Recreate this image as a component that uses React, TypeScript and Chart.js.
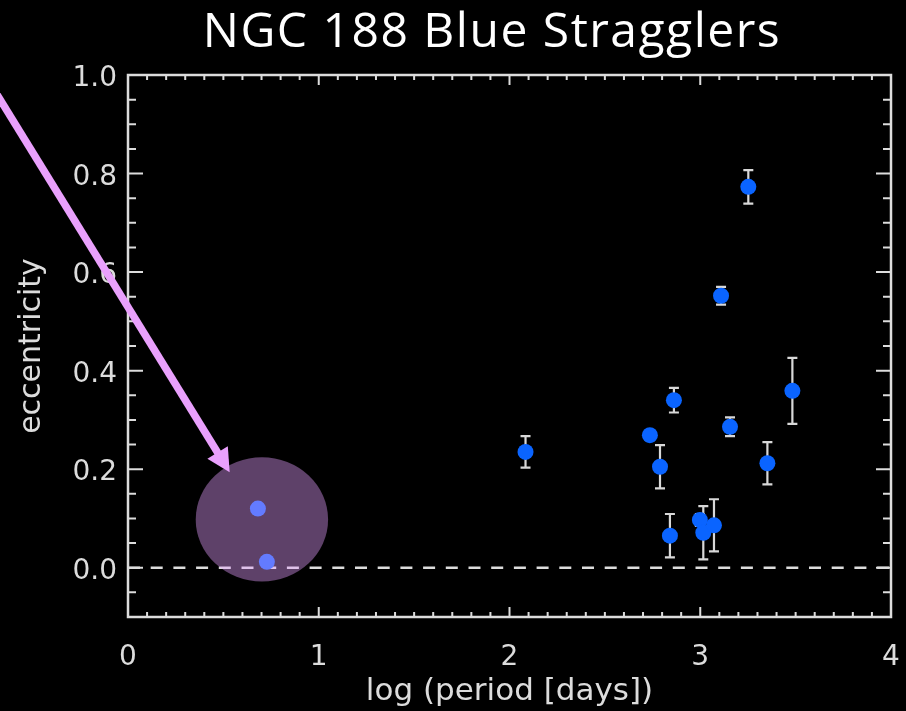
import React, { useEffect, useRef } from "react";
import { Chart, registerables } from "chart.js";

Chart.register(...registerables);

const chartTitle = "NGC 188 Blue Stragglers";
const xAxisTitle = "log (period [days])";
const yAxisTitle = "eccentricity";

// Blue straggler binaries with orbit solutions
const logPeriod = [2.084, 2.736, 2.789, 2.862, 2.841, 2.998, 3.016, 3.072, 3.109, 3.156, 3.252, 3.352, 3.483];
const eccentricity = [0.235, 0.269, 0.205, 0.340, 0.065, 0.097, 0.071, 0.086, 0.552, 0.286, 0.773, 0.212, 0.359];
const eccError = [0.032, 0.010, 0.044, 0.025, 0.044, 0.012, 0.054, 0.053, 0.018, 0.019, 0.034, 0.043, 0.067];

// Short-period, near-circular systems (highlighted)
const shortLogPeriod = [0.681, 0.728];
const shortEcc = [0.120, 0.012];

const xTicks = [0, 1, 2, 3, 4];
const yTicks = [0, 0.2, 0.4, 0.6, 0.8, 1.0];

const AXIS = "#dcdcdc";
const BLUE = "#0a64ff";
const VIOLET = "rgb(233,160,252)";
const FONT = "DejaVu Sans";

// highlight ellipse and pointer arrow, in data units
const highlight = { x: 0.702, y: 0.098, rx: 0.347, ry: 0.126 };
const pointer = { x0: -0.75, y0: 1.0, x1: 0.533, y1: 0.194 };

const decorations = {
  id: "decorations",
  beforeDatasetsDraw(chart: any) {
    const { ctx, chartArea: a, scales } = chart;
    const x = scales.x;
    const y = scales.y;
    ctx.save();
    // dashed zero line
    ctx.strokeStyle = AXIS;
    ctx.lineWidth = 2.5;
    ctx.setLineDash([12, 10.7]);
    const y0 = y.getPixelForValue(0);
    ctx.beginPath();
    ctx.moveTo(a.left, y0);
    ctx.lineTo(a.right, y0);
    ctx.stroke();
    ctx.setLineDash([]);
    // error bars
    ctx.lineWidth = 2.2;
    ctx.strokeStyle = "#d8d8d8";
    logPeriod.forEach((lp, i) => {
      const px = x.getPixelForValue(lp);
      const top = y.getPixelForValue(eccentricity[i] + eccError[i]);
      const bot = y.getPixelForValue(eccentricity[i] - eccError[i]);
      ctx.beginPath();
      ctx.moveTo(px, top);
      ctx.lineTo(px, bot);
      ctx.moveTo(px - 5, top);
      ctx.lineTo(px + 5, top);
      ctx.moveTo(px - 5, bot);
      ctx.lineTo(px + 5, bot);
      ctx.stroke();
    });
    ctx.restore();
  },
  afterDatasetsDraw(chart: any) {
    const { ctx, chartArea: a, scales } = chart;
    const x = scales.x;
    const y = scales.y;
    ctx.save();
    // frame
    ctx.strokeStyle = AXIS;
    ctx.lineWidth = 2.5;
    ctx.strokeRect(a.left, a.top, a.right - a.left, a.bottom - a.top);
    // inward ticks on all four sides
    ctx.lineWidth = 2;
    ctx.beginPath();
    for (let i = -2; i <= 20; i++) {
      const v = i * 0.05;
      const py = y.getPixelForValue(v);
      const len = i % 4 === 0 ? 15 : 8;
      ctx.moveTo(a.left, py);
      ctx.lineTo(a.left + len, py);
      ctx.moveTo(a.right, py);
      ctx.lineTo(a.right - len, py);
    }
    for (let i = 0; i <= 40; i++) {
      const v = i * 0.1;
      const px = x.getPixelForValue(v);
      const len = i % 10 === 0 ? 10 : 5;
      ctx.moveTo(px, a.bottom);
      ctx.lineTo(px, a.bottom - len);
      ctx.moveTo(px, a.top);
      ctx.lineTo(px, a.top + len);
    }
    ctx.stroke();

    // translucent highlight ellipse
    const cx = x.getPixelForValue(highlight.x);
    const cy = y.getPixelForValue(highlight.y);
    const rx = x.getPixelForValue(highlight.x + highlight.rx) - cx;
    const ry = cy - y.getPixelForValue(highlight.y + highlight.ry);
    ctx.fillStyle = "rgba(229,159,254,0.41)";
    ctx.beginPath();
    ctx.ellipse(cx, cy, rx, ry, 0, 0, Math.PI * 2);
    ctx.fill();

    // pointer arrow
    const sx = x.getPixelForValue(pointer.x0);
    const sy = y.getPixelForValue(pointer.y0);
    const tx = x.getPixelForValue(pointer.x1);
    const ty = y.getPixelForValue(pointer.y1);
    const dx = tx - sx;
    const dy = ty - sy;
    const d = Math.hypot(dx, dy);
    const ux = dx / d;
    const uy = dy / d;
    const headLen = 23;
    const headW = 12;
    const bx = tx - ux * headLen;
    const by = ty - uy * headLen;
    ctx.strokeStyle = VIOLET;
    ctx.fillStyle = VIOLET;
    ctx.lineWidth = 7.5;
    ctx.beginPath();
    ctx.moveTo(sx, sy);
    ctx.lineTo(bx + ux * 2, by + uy * 2);
    ctx.stroke();
    ctx.beginPath();
    ctx.moveTo(tx, ty);
    ctx.lineTo(bx + uy * headW, by - ux * headW);
    ctx.lineTo(bx - uy * headW, by + ux * headW);
    ctx.closePath();
    ctx.fill();

    // chart title
    ctx.fillStyle = "#ffffff";
    ctx.font = "48px 'Open Sans'";
    (ctx as any).letterSpacing = "1.5px";
    ctx.textAlign = "center";
    ctx.textBaseline = "alphabetic";
    ctx.fillText(chartTitle, 492, 47);
    ctx.restore();
  },
};

export default function App() {
  const ref = useRef<HTMLCanvasElement>(null);

  useEffect(() => {
    document.body.style.margin = "0";
    document.body.style.background = "#000";
    const chart = new Chart(ref.current as HTMLCanvasElement, {
      type: "scatter",
      data: {
        datasets: [
          {
            data: logPeriod.map((v, i) => ({ x: v, y: eccentricity[i] })),
            backgroundColor: BLUE,
            borderWidth: 0,
            pointRadius: 8,
          },
          {
            data: shortLogPeriod.map((v, i) => ({ x: v, y: shortEcc[i] })),
            backgroundColor: BLUE,
            borderWidth: 0,
            pointRadius: 8,
          },
        ],
      },
      options: {
        responsive: false,
        animation: false,
        events: [],
        layout: { padding: { left: 0, right: 15, top: 75, bottom: 0 } },
        plugins: {
          legend: { display: false },
          tooltip: { enabled: false },
          title: { display: false },
        },
        scales: {
          x: {
            type: "linear",
            min: 0,
            max: 4,
            afterFit: (s: any) => {
              s.height = 94;
              s.paddingLeft = 0;
              s.paddingRight = 0;
            },
            afterBuildTicks: (s: any) => {
              s.ticks = xTicks.map((v) => ({ value: v }));
            },
            grid: { display: false, drawTicks: false },
            border: { display: false },
            ticks: {
              color: AXIS,
              font: { family: FONT, size: 28 },
              padding: 24,
              maxRotation: 0,
              autoSkip: false,
              callback: (v: any) => String(v),
            },
            title: {
              display: true,
              text: xAxisTitle,
              color: AXIS,
              font: { family: FONT, size: 31 },
              padding: { top: 0, bottom: 0 },
            },
          },
          y: {
            type: "linear",
            min: -0.1,
            max: 1.0,
            afterFit: (s: any) => {
              s.width = 128;
              s.paddingTop = 0;
              s.paddingBottom = 0;
            },
            afterBuildTicks: (s: any) => {
              s.ticks = yTicks.map((v) => ({ value: v }));
            },
            grid: { display: false, drawTicks: false },
            border: { display: false },
            ticks: {
              color: AXIS,
              font: { family: FONT, size: 28 },
              padding: 11,
              labelOffset: 4,
              autoSkip: false,
              callback: (v: any) => Number(v).toFixed(1),
            },
            title: {
              display: true,
              text: yAxisTitle,
              color: AXIS,
              font: { family: FONT, size: 30 },
              padding: { top: 14, bottom: 0 },
            },
          },
        },
      },
      plugins: [decorations],
    });
    return () => chart.destroy();
  }, []);

  return (
    <div style={{ position: "fixed", left: 0, top: 0, width: 906, height: 711, background: "#000" }}>
      <canvas ref={ref} width={906} height={711} style={{ display: "block" }} />
    </div>
  );
}
